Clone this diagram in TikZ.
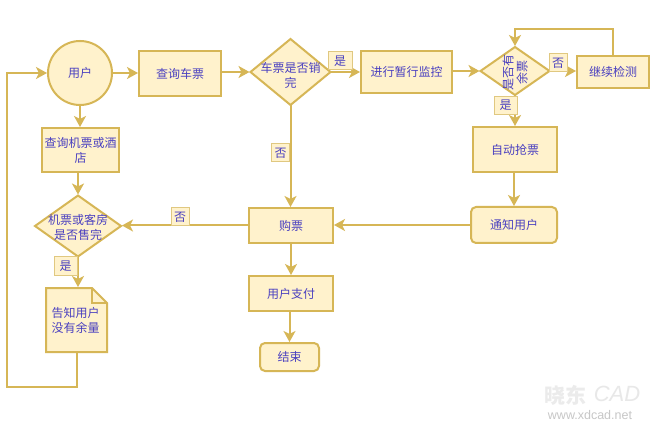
\documentclass[tikz,border=0pt]{standalone}
\usepackage{fontspec}
\setmainfont{Noto Sans CJK SC}
\newfontfamily\latinfont{Liberation Sans}
\usetikzlibrary{arrows.meta,shapes.geometric,calc}
\definecolor{edgeline}{HTML}{D6B656}
\definecolor{boxfill}{HTML}{FFF2CC}
\definecolor{inktext}{HTML}{4A40C0}
\tikzset{
  x=1pt,y=-1pt,
  every node/.style={font=\fontsize{12}{15}\selectfont,text=inktext,align=center,inner sep=0pt,outer sep=0pt},
  shapeline/.style={draw=edgeline,fill=boxfill,line width=2pt},
  procbox/.style={shapeline,rectangle,minimum width=#1},
  softbox/.style={shapeline,rectangle,rounded corners=5pt,minimum width=#1},
  choice/.style={shapeline,diamond},
  tag/.style={draw=edgeline!75,fill=boxfill,line width=1pt,minimum width=18pt,minimum height=18pt},
  link/.style={draw=edgeline,line width=2pt,shorten >=1pt,-{Stealth[length=11pt,width=12pt,inset=3pt]}},
}
\begin{document}
\begin{tikzpicture}
\useasboundingbox (0,0) rectangle (650,430);
\fill[white] (0,0) rectangle (650,430);

% start and the upper row
\node[shapeline,circle,minimum size=64pt] (user) at (80,73) {用户};
\node[procbox=82pt,minimum height=45pt] (query) at (180,73.5) {查询车票};
\node[choice,minimum width=80pt,minimum height=66pt] (sold) at (290.5,72) {};
\node (soldtext) at (290.5,75) {车票是否销\\完};
\node[procbox=91pt,minimum height=42pt] (monitor) at (406.5,72) {进行暂行监控};
\node[choice,minimum width=69pt,minimum height=48pt] (left) at (515,71) {};
\node[rotate=90,font=\fontsize{12}{14}\selectfont] (lefttext) at (515,72.5) {是否有\\余票};
\node[procbox=72pt,minimum height=32pt] (watch) at (613,72) {继续检测};

% right column
\node[procbox=84pt,minimum height=45pt] (grab) at (515,149.5) {自动抢票};
\node[softbox=86pt,minimum height=36pt] (notify) at (514,225) {通知用户};

% middle column
\node[procbox=84pt,minimum height=35pt] (buy) at (291,225.5) {购票};
\node[procbox=84pt,minimum height=35pt] (pay) at (291,293.5) {用户支付};
\node[softbox=59pt,minimum height=28pt] (finish) at (289.5,357) {结束};

% left column
\node[procbox=77pt,minimum height=44pt] (other) at (80.5,150) {查询机票或酒\\店};
\node[choice,minimum width=86pt,minimum height=61pt] (hotel) at (78,226) {};
\node (hoteltext) at (78,227) {机票或客房\\是否售完};

% page shape with a folded corner
\node[minimum width=61pt,minimum height=64pt] (note) at (76.5,320) {};
\draw[shapeline,line join=miter] (note.north west) -- ($(note.north east)+(-15,0)$) -- ($(note.north east)+(0,15)$) -- (note.south east) -- (note.south west) -- cycle;
\draw[edgeline,line width=1.2pt] ($(note.north east)+(-15,0)$) -- ($(note.north east)+(-15,15)$) -- ($(note.north east)+(0,15)$);
\node (notetext) at (75.5,320) {告知用户\\没有余量};

% connectors
\coordinate (loopA) at (note.south |- 0,387);
\coordinate (loopB) at (7,387);
\coordinate (loopC) at (7,73);
\coordinate (backA) at (613,29);
\coordinate (backB) at (515,29);
\draw[link] (user.east) -- (query.west |- user.east);
\draw[link] (query.east |- sold.west) -- (sold.west);
\draw[link] (sold.east) -- (monitor.west |- sold.east);
\draw[link] (monitor.east |- left.west) -- (left.west);
\draw[link] (left.east) -- (watch.west |- left.east);
\draw[link] (watch.north) -- (backA) -- (backB) -- (left.north);
\draw[link] (left.south) -- (grab.north -| left.south);
\draw[link] (grab.south -| notify.north) -- (notify.north);
\draw[link] (notify.west) -- (buy.east |- notify.west);
\draw[link] (sold.south) -- (buy.north -| sold.south);
\draw[link] (buy.west) -- (hotel.east |- buy.west);
\draw[link] (buy.south) -- (pay.north);
\draw[link] (pay.south -| finish.north) -- (finish.north);
\draw[link] (user.south) -- (other.north -| user.south);
\draw[link] (other.south -| hotel.north) -- (hotel.north);
\draw[link] (hotel.south) -- (note.north -| hotel.south);
\draw[link] (note.south) -- (loopA) -- (loopB) -- (loopC) -- (user.west);

% branch tags
\node[tag,minimum width=24pt] (yesA) at (340,61) {是};
\node[tag] (noA) at (558,63) {否};
\node[tag,minimum width=23pt] (yesB) at (505.5,105.5) {是};
\node[tag] (noB) at (280.5,153) {否};
\node[tag] (noC) at (180,217) {否};
\node[tag,minimum width=23pt] (yesC) at (65.5,266) {是};

% site mark in the lower right corner
\node[text=black!8,font=\fontsize{21}{21}\bfseries\selectfont] (markcn) at (565,395) {晓东};
\node[text=black!9,font=\latinfont\fontsize{22}{22}\itshape\selectfont] (markcad) at (617,394) {CAD};
\node[text=black!22,font=\latinfont\fontsize{12.5}{14}\selectfont] (markurl) at (590,415) {www.xdcad.net};
\end{tikzpicture}
\end{document}
